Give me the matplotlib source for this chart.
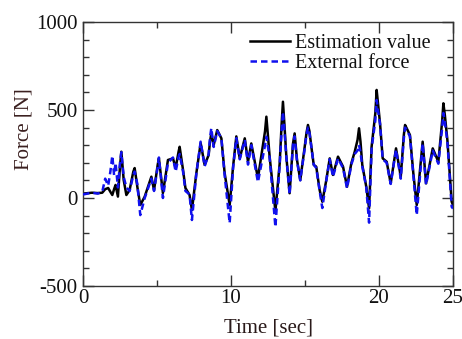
import matplotlib
matplotlib.use("Agg")
import matplotlib.pyplot as plt
from matplotlib.ticker import FixedLocator, MultipleLocator

time_sec = [0.0, 0.6, 1.0, 1.3, 1.5, 1.7, 1.85, 1.98, 2.1, 2.2,
            2.36, 2.5, 2.59, 2.75, 2.93, 3.15, 3.4, 3.49, 3.67, 3.87,
            4.17, 4.62, 4.8, 5.05, 5.13, 5.4, 5.74, 6.08, 6.26, 6.45,
            6.53, 6.76, 6.92, 7.2, 7.36, 7.66, 7.95, 8.22, 8.49, 8.58,
            8.67, 8.83, 9.07, 9.35, 9.57, 9.91, 10.14, 10.36, 10.59, 10.93,
            11.15, 11.37, 11.82, 12.3, 12.39, 12.48, 12.61, 13.0, 13.29, 13.42,
            13.51, 13.6, 13.74, 13.96, 14.19, 14.3, 14.46, 14.68, 14.98, 15.1,
            15.2, 15.3, 15.43, 15.59, 15.76, 15.99, 16.17, 16.44, 16.67, 16.89,
            17.23, 17.57, 17.84, 18.13, 18.36, 18.55, 18.65, 18.75, 18.87, 19.14,
            19.33, 19.5, 19.75, 19.84, 19.93, 20.07, 20.25, 20.52, 20.79, 21.15,
            21.47, 21.68, 21.76, 21.85, 22.09, 22.32, 22.55, 22.95, 23.18, 23.63,
            24.01, 24.27, 24.35, 24.45, 24.62, 24.91, 25.0]

estimation_value = [25, 30, 28, 30, 50, 57, 35, 17, 50, 74,
                    8, 180, 263, 102, 17, 45, 150, 170, 64, -40,
                    8, 121, 45, 190, 225, 28, 216, 225, 170, 260,
                    291, 159, 57, 17, -68, 142, 312, 188, 244, 320,
                    367, 301, 386, 339, 142, -40, 178, 350, 225, 339,
                    206, 310, 112, 380, 462, 370, 235, -75, 197, 420,
                    547, 430, 235, 27, 310, 367, 216, 102, 291, 370,
                    415, 380, 291, 188, 178, 45, -21, 102, 225, 131,
                    235, 178, 64, 197, 263, 330, 396, 320, 188, 64,
                    -59, 291, 480, 614, 540, 424, 225, 206, 83, 282,
                    121, 360, 415, 400, 358, 140, -40, 320, 83, 282,
                    206, 440, 538, 470, 330, -21, -40]

external_force = [20, 30, 25, 35, 110, 70, 150, 240, 130, 200,
                  60, 200, 260, 120, 60, 40, 130, 150, 80, -97,
                  0, 110, 40, 180, 230, 0, 200, 230, 150, 230,
                  250, 150, 40, 20, -125, 140, 320, 180, 250, 340,
                  397, 290, 380, 340, 130, -142, 170, 340, 220, 330,
                  190, 300, 90, 300, 348, 300, 230, -165, 190, 380,
                  490, 400, 230, 20, 300, 350, 210, 100, 280, 360,
                  400, 370, 290, 190, 170, 40, -57, 100, 220, 120,
                  225, 170, 55, 190, 250, 270, 301, 260, 180, 60,
                  -140, 280, 440, 557, 500, 420, 220, 200, 80, 275,
                  110, 340, 400, 390, 350, 130, -97, 310, 75, 270,
                  195, 400, 483, 430, 320, -50, -60]

x_ticks_major = [0, 10, 20, 25]
x_ticks_minor = [5, 15]
y_ticks_major = [-500, 0, 500, 1000]

plt.rcParams['font.family'] = ['Liberation Serif', 'DejaVu Serif']
plt.rcParams['axes.unicode_minus'] = False

fig = plt.figure(figsize=(4.62, 3.39), dpi=100)
ax = fig.add_axes([83/462, 1-286/339, 370/462, 264/339])

ax.plot(time_sec, estimation_value, color='black', lw=1.8, label='Estimation value', zorder=2)
ax.plot(time_sec, external_force, color='#1010ee', lw=1.8, ls=(0, (2.6, 1.6)),
        label='External force', zorder=3)

ax.set_xlim(0, 25)
ax.set_ylim(-500, 1000)
ax.xaxis.set_major_locator(FixedLocator(x_ticks_major))
ax.xaxis.set_minor_locator(FixedLocator(x_ticks_minor))
ax.set_yticks(y_ticks_major)
ax.yaxis.set_minor_locator(MultipleLocator(100))
ax.tick_params(which='both', direction='in', top=True, right=True, colors='#333333',
               labelcolor='#111111', labelsize=15, width=1)
ax.tick_params(which='major', length=8, pad=2)
ax.tick_params(which='minor', length=4.5)
ax.tick_params(axis='y', which='major', pad=4)
for s in ax.spines.values():
    s.set_linewidth(1.0)
    s.set_color('#333333')

ax.set_xlabel('Time [sec]', fontsize=15, color='#2a1a1a', labelpad=8)
ax.set_ylabel('Force [N]', fontsize=15, color='#3a1f1f')
ax.yaxis.set_label_coords(-0.134, 0.593)

leg = ax.legend(loc='upper right', bbox_to_anchor=(0.978, 1.01), frameon=False,
                fontsize=14.5, handlelength=2.0, handletextpad=0.25,
                labelspacing=0.05, borderaxespad=0.3)
for t in leg.get_texts():
    t.set_color('#111111')

fig.savefig('out.png', dpi=100)
